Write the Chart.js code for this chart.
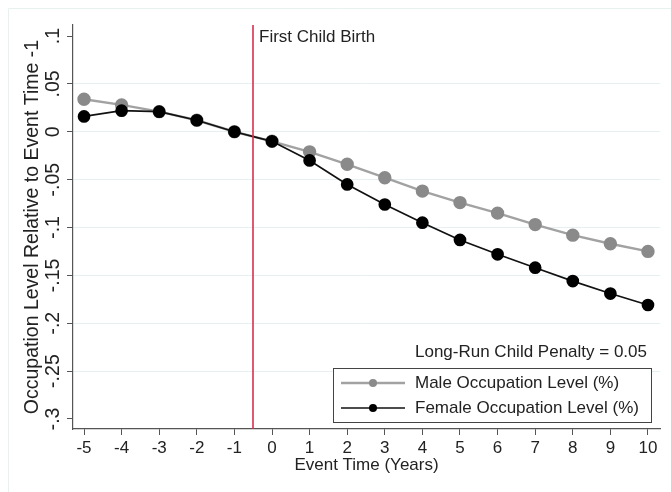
<!DOCTYPE html>
<html>
<head>
<meta charset="utf-8">
<title>Child penalty: occupation level</title>
<script src="https://cdn.jsdelivr.net/npm/chart.js@4.4.1/dist/chart.umd.min.js"></script>
<style>
  html, body { margin: 0; padding: 0; background: #fff; }
  #wrap { position: relative; width: 671px; height: 492px; }
</style>
</head>
<body>
<div id="wrap"><canvas id="chart" width="671" height="492"></canvas></div>
<script>
// event time in years
const eventTime = [-5, -4, -3, -2, -1, 0, 1, 2, 3, 4, 5, 6, 7, 8, 9, 10];
// occupation level relative to event time -1
const maleLevel = [0.034, 0.028, 0.021, 0.012, 0, -0.010, -0.021, -0.034, -0.048, -0.062, -0.074, -0.085, -0.097, -0.108, -0.117, -0.125];
const femaleLevel = [0.016, 0.022, 0.021, 0.012, 0, -0.010, -0.030, -0.055, -0.076, -0.095, -0.113, -0.128, -0.142, -0.156, -0.169, -0.181];
const yTicks = [-0.3, -0.25, -0.2, -0.15, -0.1, -0.05, 0, 0.05, 0.1];
const xTicks = eventTime;
const birthLine = -0.5;
const penalty = 0.05;

const FONT = "'Liberation Sans', Arial, Helvetica, sans-serif";
const TEXT = "#222";
const AXIS = "#555";
const H_SIZE = 17;   // horizontal text
const V_SIZE = 19.5; // rotated text on the y axis

// Stata style: ".05", "-.1", "0"
function stataNum(v) {
  let s = String(Math.round(v * 1000) / 1000);
  return s.replace(/^(-?)0\./, "$1.");
}

const toPoints = (ys) => eventTime.map((x, i) => ({ x: x, y: ys[i] }));

// frame, red event line, axis titles, rotated y labels, note and legend box
const extras = {
  id: "extras",
  beforeDraw(chart) {
    const c = chart.ctx;
    c.save();
    c.strokeStyle = "#e8f0f0";
    c.lineWidth = 1;
    c.beginPath();
    c.moveTo(8.5, 500); c.lineTo(8.5, 8.5); c.lineTo(700, 8.5);
    c.stroke();
    c.restore();
  },
  afterDatasetsDraw(chart) {
    const c = chart.ctx;
    const area = chart.chartArea;
    const xs = chart.scales.x;
    const ys = chart.scales.y;

    // first child birth marker
    const bx = Math.round(xs.getPixelForValue(birthLine));
    c.save();
    c.strokeStyle = "#d6304f";
    c.lineWidth = 1.6;
    c.beginPath();
    c.moveTo(bx, area.top);
    c.lineTo(bx, area.bottom);
    c.stroke();

    c.fillStyle = TEXT;
    c.font = H_SIZE + "px " + FONT;
    c.textAlign = "left";
    c.textBaseline = "middle";
    c.fillText("First Child Birth", bx + 6, 37);

    // x title
    c.textAlign = "center";
    c.fillText("Event Time (Years)", (area.left + area.right) / 2, 465);

    // y tick labels and title, rotated
    c.font = V_SIZE + "px " + FONT;
    ys.ticks.forEach(t => {
      const py = ys.getPixelForValue(t.value);
      c.save();
      c.translate(54, py);
      c.rotate(-Math.PI / 2);
      c.fillText(stataNum(t.value), 0, 0);
      c.restore();
    });
    c.save();
    c.translate(33, (area.top + area.bottom) / 2);
    c.rotate(-Math.PI / 2);
    c.fillText("Occupation Level Relative to Event Time -1", 0, 0);
    c.restore();

    // penalty note
    c.font = H_SIZE + "px " + FONT;
    c.textAlign = "right";
    c.fillText("Long-Run Child Penalty = " + penalty.toFixed(2), 647, 352);

    // legend box
    const lx = 333.5, ly = 368.5, lw = 318, lh = 54;
    c.strokeStyle = "#444";
    c.lineWidth = 1;
    c.fillStyle = "#fff";
    c.fillRect(lx, ly, lw, lh);
    c.strokeRect(lx, ly, lw, lh);
    chart.data.datasets.forEach((ds, i) => {
      const ry = 383 + i * 25;
      c.strokeStyle = ds.borderColor;
      c.lineWidth = ds.borderWidth;
      c.beginPath();
      c.moveTo(341, ry);
      c.lineTo(405, ry);
      c.stroke();
      c.fillStyle = ds.pointBackgroundColor;
      c.beginPath();
      c.arc(373, ry, 4, 0, Math.PI * 2);
      c.fill();
      c.fillStyle = TEXT;
      c.textAlign = "left";
      c.fillText(ds.label, 415, ry);
    });
    c.restore();
  }
};

new Chart(document.getElementById("chart"), {
  type: "line",
  data: {
    datasets: [
      {
        label: "Male Occupation Level (%)",
        data: toPoints(maleLevel),
        order: 1,
        borderColor: "#a2a2a2",
        backgroundColor: "#8a8a8a",
        pointBackgroundColor: "#8a8a8a",
        pointBorderColor: "#8a8a8a",
        borderWidth: 2.4,
        pointRadius: 5.5,
        tension: 0
      },
      {
        label: "Female Occupation Level (%)",
        data: toPoints(femaleLevel),
        order: 0,
        borderColor: "#111",
        backgroundColor: "#000",
        pointBackgroundColor: "#000",
        pointBorderColor: "#000",
        borderWidth: 1.7,
        pointRadius: 5.5,
        tension: 0
      }
    ]
  },
  options: {
    responsive: false,
    animation: false,
    events: [],
    layout: { padding: { left: 18, right: 11, top: 25, bottom: 0 } },
    plugins: { legend: { display: false }, tooltip: { enabled: false } },
    scales: {
      x: {
        type: "linear",
        min: -5.293,
        max: 10.32,
        afterBuildTicks: s => { s.ticks = xTicks.map(v => ({ value: v })); },
        afterFit: s => { s.height = 63; },
        border: { display: true, color: AXIS, width: 1.2 },
        grid: { drawOnChartArea: false, drawTicks: true, tickLength: 6, tickColor: AXIS },
        ticks: { color: TEXT, font: { family: FONT, size: H_SIZE }, padding: 3, maxRotation: 0, autoSkip: false,
                 callback: v => String(v) }
      },
      y: {
        type: "linear",
        min: -0.3105,
        max: 0.1115,
        afterBuildTicks: s => { s.ticks = yTicks.map(v => ({ value: v })); },
        afterFit: s => { s.width = 55; },
        border: { display: true, color: AXIS, width: 1.2 },
        grid: {
          drawTicks: true,
          tickLength: 6,
          tickColor: AXIS,
          lineWidth: 1,
          color: ctx => (ctx.tick && (ctx.tick.value > 0.09 || ctx.tick.value < -0.29)) ? "rgba(0,0,0,0)" : "#e6eff2"
        },
        ticks: { display: false }
      }
    }
  },
  plugins: [extras]
});
</script>
</body>
</html>
